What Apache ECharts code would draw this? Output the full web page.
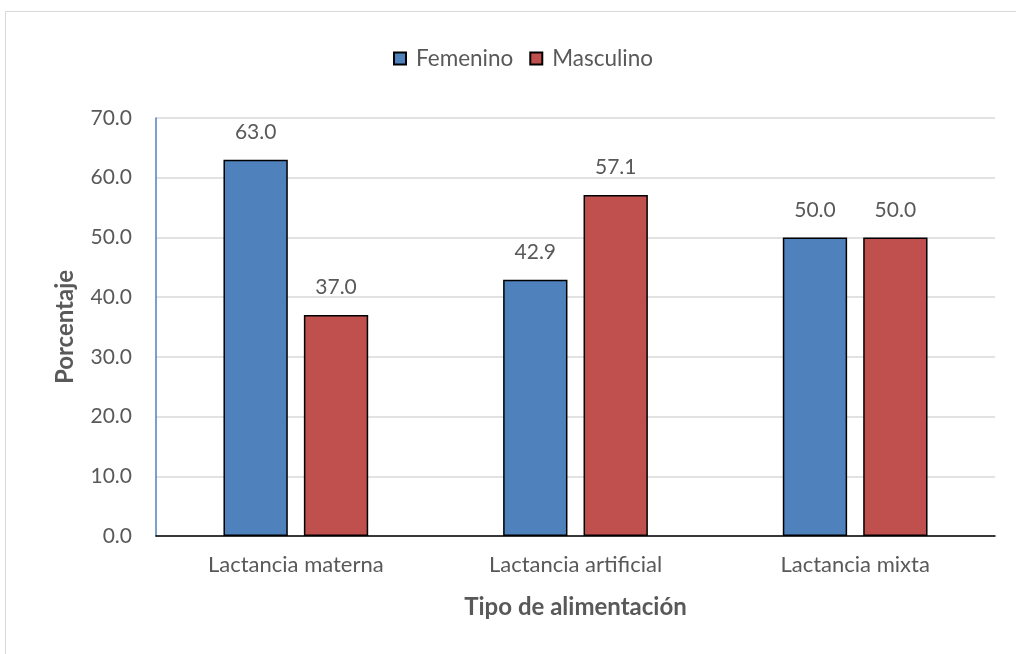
<!DOCTYPE html>
<html>
<head>
<meta charset="utf-8">
<script src="https://cdn.jsdelivr.net/npm/echarts@6/dist/echarts.min.js"></script>
<style>
  html, body { margin: 0; padding: 0; background: #ffffff; }
  #frame { position: absolute; left: 5px; top: 11px; width: 1100px; height: 700px; border: 1px solid #d9d9d9; box-sizing: border-box; }
  #chart { position: absolute; left: 0; top: 0; width: 1016px; height: 654px; }
</style>
</head>
<body>
<div id="frame"></div>
<div id="chart"></div>
<script>
// Feeding type categories and percentages by sex
const categories = ['Lactancia materna', 'Lactancia artificial', 'Lactancia mixta'];
const femenino = [63.0, 42.9, 50.0];
const masculino = [37.0, 57.1, 50.0];
const seriesNames = ['Femenino', 'Masculino'];

const FONT = 'Lato, "Open Sans", sans-serif';
const TXT = '#595959';

const chart = echarts.init(document.getElementById('chart'), null, { renderer: 'canvas' });

const labelStyle = {
  show: true,
  position: 'top',
  distance: 17,
  color: TXT,
  fontSize: 21,
  fontFamily: FONT,
  formatter: p => p.value.toFixed(1)
};

chart.setOption({
  backgroundColor: 'transparent',
  animation: false,
  legend: {
    data: seriesNames,
    top: 42,
    left: 388,
    itemWidth: 12,
    itemHeight: 12,
    itemGap: 16,
    icon: 'rect',
    textStyle: { color: TXT, fontSize: 22.5, fontFamily: FONT, padding: [0, 0, 0, 5] }
  },
  grid: { left: 156, right: 21, top: 118, bottom: 118, containLabel: false },
  xAxis: {
    type: 'category',
    data: categories,
    name: 'Tipo de alimentación',
    nameLocation: 'middle',
    nameGap: 59,
    nameTextStyle: { color: TXT, fontSize: 24, fontWeight: 'bold', fontFamily: FONT },
    axisLine: { lineStyle: { color: '#000000', width: 1.5 } },
    axisTick: { show: false },
    axisLabel: { color: TXT, fontSize: 22, fontFamily: FONT, margin: 18 }
  },
  yAxis: {
    type: 'value',
    min: 0,
    max: 70,
    interval: 10,
    name: 'Porcentaje',
    nameLocation: 'middle',
    nameGap: 79,
    nameRotate: 90,
    nameTextStyle: { color: TXT, fontSize: 24, fontWeight: 'bold', fontFamily: FONT },
    axisLine: { show: true, lineStyle: { color: '#4F81BD', width: 1.5 } },
    axisTick: { show: false },
    splitLine: { lineStyle: { color: '#d9d9d9', width: 1.5 } },
    axisLabel: { color: TXT, fontSize: 21, fontFamily: FONT, margin: 24, formatter: v => v.toFixed(1) }
  },
  series: [
    {
      name: seriesNames[0],
      type: 'bar',
      data: femenino,
      barWidth: '23%',
      barGap: '25%',
      itemStyle: { color: '#4F81BD', borderColor: '#000000', borderWidth: 1.5 },
      label: labelStyle
    },
    {
      name: seriesNames[1],
      type: 'bar',
      data: masculino,
      barWidth: '23%',
      itemStyle: { color: '#C0504D', borderColor: '#000000', borderWidth: 1.5 },
      label: labelStyle
    }
  ]
});
</script>
</body>
</html>
